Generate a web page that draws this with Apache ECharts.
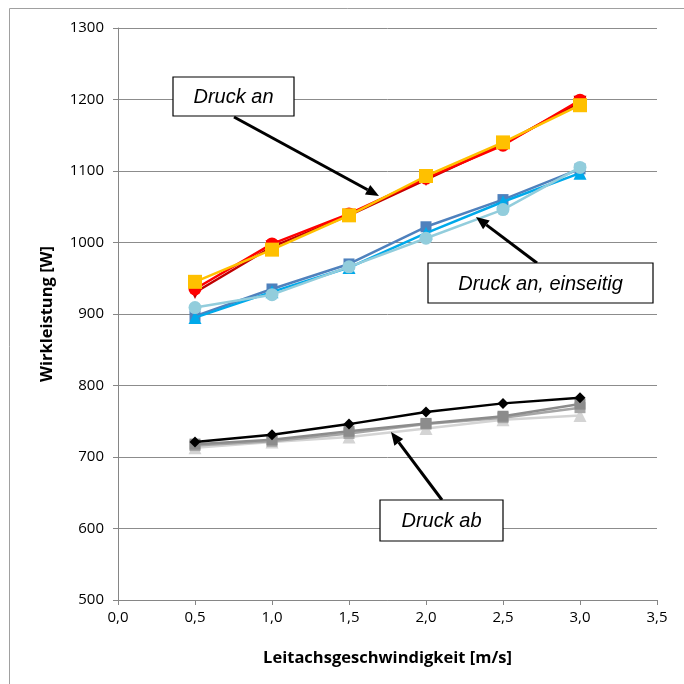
<!DOCTYPE html>
<html>
<head>
<meta charset="utf-8">
<script src="https://cdn.jsdelivr.net/npm/echarts@6/dist/echarts.min.js"></script>
<style>
  html, body { margin: 0; padding: 0; background: #fff; }
  #chart { width: 684px; height: 684px; }
</style>
</head>
<body>
<div id="chart"></div>
<script>
// Leitachsgeschwindigkeit [m/s]
var speeds = [0.5, 1.0, 1.5, 2.0, 2.5, 3.0];

// Druck an
var anRed     = [935, 998, 1040, 1090, 1136, 1199];
var anDarkRed = [930, 994, 1038, 1088, 1138, 1196];
var anYellow  = [945, 990, 1038, 1093, 1140, 1192];

// Druck an, einseitig
var einBlue   = [897, 935, 970, 1022, 1060, 1103];
var einCyan   = [895, 931, 965, 1013, 1057, 1097];
var einLight  = [909, 927, 966, 1006, 1046, 1105];

// Druck ab
var abBlack   = [721, 731, 746, 763, 775, 783];
var abGray    = [718, 724, 736, 747, 757, 774];
var abMid     = [716, 722, 733, 746, 755, 769];
var abLight   = [713, 721, 728, 740, 752, 758];

function pairs(vals) {
    return speeds.map(function(s, i) { return [s, vals[i]]; });
}

function line(name, vals, color, symbol, size, z) {
    return {
        name: name,
        type: 'line',
        data: pairs(vals),
        symbol: symbol,
        symbolSize: size,
        z: z,
        lineStyle: { color: color, width: 2.5 },
        itemStyle: { color: color },
        animation: false
    };
}

// arrow = line + filled head, pixel coords (annotation, not data)
function arrow(x1, y1, x2, y2) {
    var a = Math.atan2(y2 - y1, x2 - x1);
    var len = 13, w = 5.5;
    var bx = x2 - len * Math.cos(a), by = y2 - len * Math.sin(a);
    var px = -Math.sin(a) * w, py = Math.cos(a) * w;
    return [
        { type: 'line', shape: { x1: x1, y1: y1, x2: bx, y2: by },
          style: { stroke: '#000', lineWidth: 3 }, z: 50 },
        { type: 'polygon', shape: { points: [[x2, y2], [bx + px, by + py], [bx - px, by - py]] },
          style: { fill: '#000' }, z: 50 }
    ];
}

function box(x, y, w, h, text) {
    return {
        type: 'group', x: x, y: y, z: 60,
        children: [
            { type: 'rect', shape: { x: 0, y: 0, width: w, height: h },
              style: { fill: '#fff', stroke: '#000', lineWidth: 1.2 }, z: 60 },
            { type: 'text', x: w / 2, y: h / 2 + 1, z: 61,
              style: { text: text, fill: '#000', font: 'italic 20px "Liberation Sans", Arial',
                       align: 'center', verticalAlign: 'middle' } }
        ]
    };
}

var chart = echarts.init(document.getElementById('chart'));

var graphics = [
    { type: 'rect', shape: { x: 9.5, y: 8.5, width: 700, height: 700 },
      style: { fill: 'none', stroke: '#a0a0a0', lineWidth: 1 }, z: 0, silent: true }
]
    .concat(arrow(234, 117, 379, 196))
    .concat(arrow(537, 263, 476, 217))
    .concat(arrow(442, 500, 391, 432))
    .concat([
        box(173, 77, 121, 39, 'Druck an'),
        box(428, 263, 225, 40, 'Druck an, einseitig'),
        box(380, 500, 123, 41, 'Druck ab')
    ]);

var titleFont = { fontFamily: 'Open Sans', fontWeight: 'bold', fontSize: 16.5, color: '#000' };

chart.setOption({
    backgroundColor: '#fff',
    animation: false,
    grid: { left: 118, right: 27, top: 28, bottom: 84 },
    xAxis: {
        type: 'value', min: 0, max: 3.5, interval: 0.5,
        name: 'Leitachsgeschwindigkeit [m/s]',
        nameLocation: 'middle', nameGap: 50,
        nameTextStyle: titleFont,
        axisLine: { lineStyle: { color: '#868686', width: 1 } },
        axisTick: { show: true, length: 5, lineStyle: { color: '#868686' } },
        axisLabel: {
            fontFamily: 'Open Sans', fontSize: 15, color: '#000', margin: 10,
            formatter: function(v) { return v.toFixed(1).replace('.', ','); }
        },
        splitLine: { show: false }
    },
    yAxis: {
        type: 'value', min: 500, max: 1300, interval: 100,
        name: 'Wirkleistung [W]',
        nameLocation: 'middle', nameGap: 62, nameRotate: 90,
        nameTextStyle: titleFont,
        axisLine: { show: true, lineStyle: { color: '#868686', width: 1 } },
        axisTick: { show: true, length: 5, lineStyle: { color: '#868686' } },
        axisLabel: {
            fontFamily: 'Open Sans', fontSize: 15, color: '#000', margin: 14,
            formatter: function(v) { return String(v); }
        },
        splitLine: { lineStyle: { color: '#8c8c8c', width: 1 } }
    },
    series: [
        line('ab grau hell', abLight, '#d4d4d4', 'triangle', 13, 2),
        line('ab grau mittel', abMid, '#a6a6a6', 'rect', 11, 3),
        line('ab grau', abGray, '#8c8c8c', 'rect', 11, 4),
        line('ab schwarz', abBlack, '#000000', 'diamond', 11, 5),
        line('einseitig blau', einBlue, '#4f81bd', 'rect', 11, 6),
        line('einseitig cyan', einCyan, '#00a9ea', 'triangle', 13, 7),
        line('einseitig hell', einLight, '#92cddc', 'circle', 13, 8),
        line('an dunkelrot', anDarkRed, '#c00000', 'triangle', 13, 9),
        line('an rot', anRed, '#ff0000', 'circle', 13, 10),
        line('an gelb', anYellow, '#ffc000', 'rect', 14, 11)
    ],
    graphic: graphics
});
// dark red triangles point down
chart.setOption({ series: [{}, {}, {}, {}, {}, {}, {}, { symbolRotate: 180 }] });
</script>
</body>
</html>
